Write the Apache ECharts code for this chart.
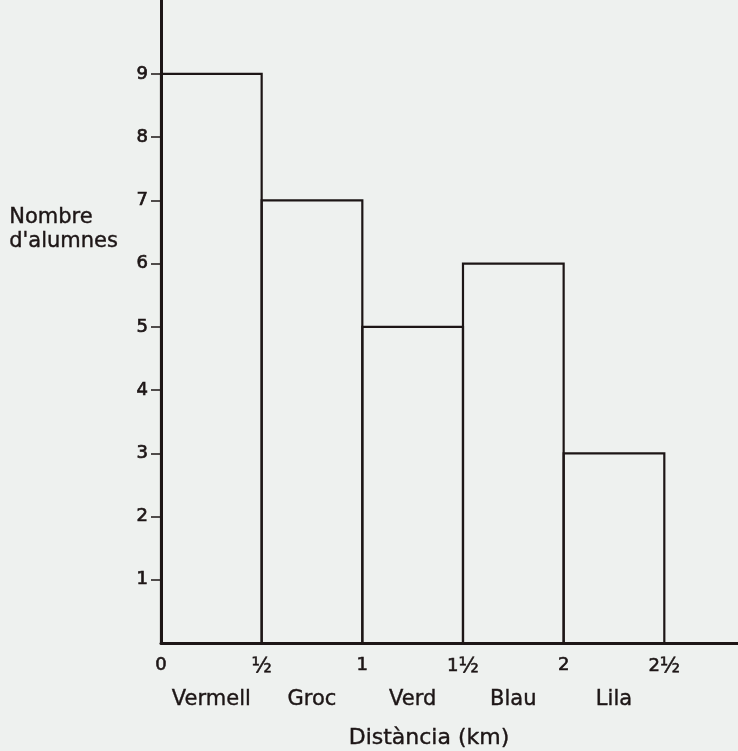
<!DOCTYPE html>
<html>
<head>
<meta charset="utf-8">
<script src="https://cdn.jsdelivr.net/npm/echarts@6/dist/echarts.min.js"></script>
<style>
  html, body { margin: 0; padding: 0; background: #eef1ef; }
  #chart { width: 738px; height: 751px; }
</style>
</head>
<body>
<div id="chart"></div>
<script>
// Data
const categories = ['Vermell', 'Groc', 'Verd', 'Blau', 'Lila'];
const binStart = [0, 0.5, 1, 1.5, 2];
const binEnd = [0.5, 1, 1.5, 2, 2.5];
const counts = [9, 7, 5, 6, 3];
const yTicks = [1, 2, 3, 4, 5, 6, 7, 8, 9];
const xTicks = [0, 0.5, 1, 1.5, 2, 2.5];
const xTickLabels = ['0', '{f|½}', '1', '1{f|½}', '2', '2{f|½}'];

const ink = '#1d1616';
const font = '"DejaVu Sans", "Liberation Sans", Arial, sans-serif';

const chart = echarts.init(document.getElementById('chart'));
const data = categories.map((c, i) => [binStart[i], binEnd[i], counts[i]]);

chart.setOption({
  backgroundColor: '#eef1ef',
  animation: false,
  title: {
    text: 'Distància (km)',
    left: 424,
    top: 722,
    textAlign: 'center',
    textStyle: { fontFamily: font, fontSize: 22, fontWeight: 'normal', color: ink,
      textBorderColor: ink, textBorderWidth: 0.4 }
  },
  graphic: [{
    type: 'text',
    left: 9,
    top: 206,
    style: {
      text: "Nombre\nd'alumnes",
      font: '21px ' + font,
      fill: ink,
      stroke: ink,
      lineWidth: 0.4,
      lineHeight: 24
    }
  }],
  grid: { left: 161, right: 0, top: 0, bottom: 108 },
  xAxis: {
    type: 'value',
    min: 0,
    max: 2.866,
    interval: 0.5,
    splitLine: { show: false },
    axisTick: { show: false },
    axisLine: { lineStyle: { color: ink, width: 3 } },
    axisLabel: {
      customValues: xTicks,
      margin: 13,
      fontFamily: font,
      fontSize: 18,
      color: ink,
      textBorderColor: ink,
      textBorderWidth: 0.6,
      rich: {
        f: { fontFamily: font, fontSize: 21, color: ink, textBorderColor: ink, textBorderWidth: 0.5 }
      },
      formatter: v => {
        const i = xTicks.findIndex(t => Math.abs(t - v) < 1e-6);
        return i >= 0 ? xTickLabels[i] : '';
      }
    }
  },
  yAxis: {
    type: 'value',
    min: 0,
    max: 10.17,
    interval: 1,
    splitLine: { show: false },
    axisLine: { lineStyle: { color: ink, width: 3 } },
    axisTick: {
      show: true,
      customValues: yTicks,
      length: 10,
      lineStyle: { color: ink, width: 1.5 }
    },
    axisLabel: {
      customValues: yTicks,
      margin: 13,
      fontFamily: font,
      fontSize: 18,
      color: ink,
      textBorderColor: ink,
      textBorderWidth: 0.7,
      padding: [0, 0, 5, 0]
    }
  },
  series: [{
    type: 'custom',
    clip: false,
    data: data,
    encode: { x: [0, 1], y: 2 },
    renderItem: function (params, api) {
      const tl = api.coord([api.value(0), api.value(2)]);
      const br = api.coord([api.value(1), 0]);
      return {
        type: 'group',
        children: [{
          type: 'rect',
          shape: { x: tl[0], y: tl[1], width: br[0] - tl[0], height: br[1] - tl[1] },
          style: { fill: 'none', stroke: ink, lineWidth: 2.2 }
        }, {
          type: 'text',
          x: (tl[0] + br[0]) / 2,
          y: br[1] + 57,
          style: {
            text: categories[params.dataIndex],
            align: 'center',
            verticalAlign: 'middle',
            font: '21px ' + font,
            fill: ink,
            stroke: ink,
            lineWidth: 0.4
          }
        }]
      };
    }
  }]
});
</script>
</body>
</html>
